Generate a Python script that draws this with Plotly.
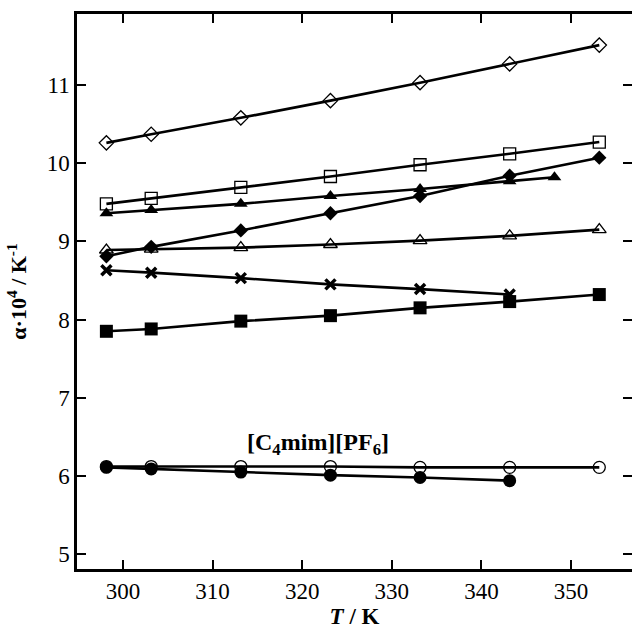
import plotly.graph_objects as go

# Temperatures (K)
T_full = [298.15, 303.15, 313.15, 323.15, 333.15, 343.15, 353.15]
T_to_343 = [298.15, 303.15, 313.15, 323.15, 333.15, 343.15]
T_to_348 = [298.15, 303.15, 313.15, 323.15, 333.15, 343.15, 348.15]

# Thermal expansion coefficients, alpha * 10^4 / K^-1
alpha_open_diamond = [10.26, 10.37, 10.58, 10.80, 11.03, 11.27, 11.51]
alpha_open_square = [9.48, 9.55, 9.69, 9.83, 9.98, 10.12, 10.27]
alpha_filled_triangle = [9.36, 9.40, 9.48, 9.58, 9.67, 9.77, 9.82]
alpha_filled_diamond = [8.81, 8.93, 9.14, 9.36, 9.58, 9.84, 10.07]
alpha_open_triangle = [8.89, 8.90, 8.92, 8.96, 9.01, 9.07, 9.15]
alpha_cross = [8.63, 8.60, 8.53, 8.45, 8.39, 8.32]
alpha_filled_square = [7.85, 7.88, 7.98, 8.05, 8.15, 8.23, 8.32]
alpha_open_circle = [6.12, 6.12, 6.12, 6.12, 6.11, 6.11, 6.11]
alpha_filled_circle = [6.11, 6.09, 6.05, 6.01, 5.98, 5.94]

x_ticks = [300, 310, 320, 330, 340, 350]
y_ticks = [5, 6, 7, 8, 9, 10, 11]

FONT = "Liberation Serif"

series = [
    (T_full, alpha_open_diamond, "diamond-open", 11, 1.3),
    (T_full, alpha_open_square, "square-open", 12, 1.3),
    (T_to_348, alpha_filled_triangle, "triangle-up", 12, 0),
    (T_full, alpha_filled_diamond, "diamond", 11, 0),
    (T_full, alpha_open_triangle, "triangle-up-open", 12, 1.3),
    (T_to_343, alpha_cross, "x-thin", 10, 3.5),
    (T_full, alpha_filled_square, "square", 13, 0),
    (T_full, alpha_open_circle, "circle-open", 12, 1.3),
    (T_to_343, alpha_filled_circle, "circle", 13, 0),
]

fig = go.Figure()
for xs, ys, sym, size, lw in series:
    fig.add_trace(go.Scatter(
        x=xs, y=ys, mode="lines+markers",
        line=dict(color="black", width=2.6),
        marker=dict(symbol=sym, size=size, color="black",
                    line=dict(color="black", width=lw)),
        showlegend=False,
    ))

# invisible trace carrying the right-hand tick marks (no frame line on that side)
fig.add_trace(go.Scatter(x=[T_full[0]], y=[alpha_open_circle[0]], yaxis="y2",
                         mode="markers", marker=dict(opacity=0), showlegend=False,
                         hoverinfo="skip"))

fig.add_annotation(x=321.8, y=6.41, text="<b>[C<sub>4</sub>mim][PF<sub>6</sub>]</b>",
                   showarrow=False, font=dict(family=FONT, size=24, color="black"))

axis_common = dict(showgrid=False, zeroline=False, ticks="inside", ticklen=9,
                   tickwidth=2, tickcolor="black", linecolor="black",
                   tickfont=dict(family=FONT, size=23, color="black"))

fig.update_layout(
    width=632, height=630,
    margin=dict(l=77, r=0, t=14, b=61),
    paper_bgcolor="white", plot_bgcolor="white",
    font=dict(family=FONT, color="black"),
    xaxis=dict(range=[294.87, 356.8], tickvals=x_ticks, showline=True, linewidth=2.5,
               mirror="ticks",
               title=dict(text="<b><i>T</i> / K</b>", font=dict(family=FONT, size=23),
                          standoff=4),
               **axis_common),
    yaxis=dict(range=[4.81, 11.908], tickvals=y_ticks, showline=True, linewidth=2.5,
               title=dict(text="<b>α·10<sup>4</sup> / K<sup>-1</sup></b>",
                          font=dict(family=FONT, size=22), standoff=14),
               **axis_common),
    yaxis2=dict(overlaying="y", side="right", matches="y", range=[4.81, 11.908],
                tickvals=y_ticks, showticklabels=False, showline=False,
                showgrid=False, zeroline=False, ticks="inside", ticklen=9,
                tickwidth=2, tickcolor="black"),
)

fig.write_html("out.html")
